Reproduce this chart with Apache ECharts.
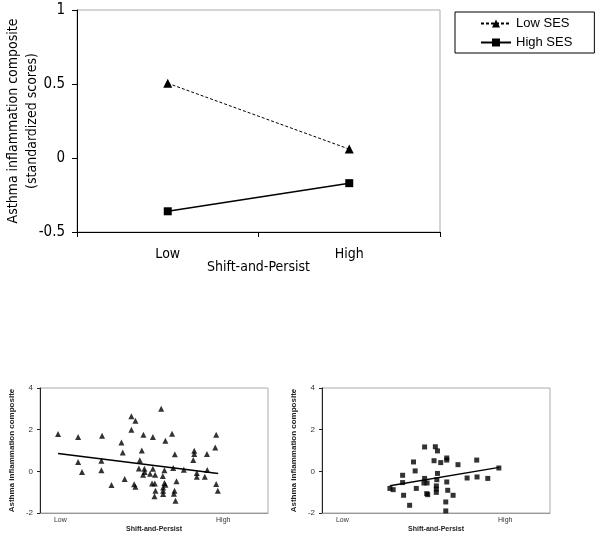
<!DOCTYPE html>
<html><head><meta charset="utf-8">
<script src="https://cdn.jsdelivr.net/npm/echarts@6/dist/echarts.min.js"></script>
<style>html,body{margin:0;padding:0;background:#fff}#c{width:600px;height:540px}</style>
</head><body><div id="c"></div>
<script>
// ---- Top chart: interaction plot ----
const categories = ['Low', 'High'];
const lowSES = [0.505, 0.06];
const highSES = [-0.36, -0.17];
const seriesNames = ['Low SES', 'High SES'];

// ---- Bottom charts: scatter (x: Shift-and-Persist, Low=0, High=10) ----
const xTickValues = [0, 10];
const xTickLabels = ['Low', 'High'];

const lowSESx = [-0.14,1.09,1.09,1.33,2.56,2.52,2.52,3.14,3.75,3.83,3.95,4.36,4.61,4.36,4.53,4.61,5.0,5.10,4.88,4.82,5.08,5.16,5.18,5.51,5.68,5.68,5.63,5.82,5.80,5.84,5.78,6.19,6.45,6.39,6.29,6.39,6.31,6.31,6.31,6.45,6.86,6.93,7.03,7.13,7.01,6.97,7.07,7.58,8.16,8.22,8.22,8.38,8.38,9.0,9.02,8.87,9.57,9.51,9.57,9.67];
const lowSESy = [1.79,1.65,0.45,-0.03,1.71,0.51,0.05,-0.66,1.38,0.91,-0.37,2.64,2.43,2.0,-0.62,-0.74,1.0,1.76,0.53,0.14,-0.16,0.13,-0.03,-0.11,1.65,0.13,-0.58,-0.16,-0.58,-0.93,-1.2,3.0,1.47,0.05,-0.22,-0.56,-0.77,-0.93,-1.09,-0.64,1.81,0.16,0.82,-0.48,-0.93,-1.07,-1.41,0.08,0.54,0.99,0.83,-0.08,-0.26,0.83,0.06,-0.26,1.76,1.15,-0.61,-0.93];
const lowTrendX = [-0.14, 9.69];
const lowTrendY = [0.86, -0.10];

const highSESx = [2.92,3.12,3.70,3.70,3.76,4.13,4.37,4.47,4.54,5.05,5.05,5.01,5.20,5.24,5.18,5.63,5.71,5.84,5.84,5.80,5.77,5.77,5.77,6.04,6.41,6.41,6.41,6.47,6.35,6.35,6.80,7.10,7.66,8.25,8.27,8.93,9.61];
const highSESy = [-0.82,-0.88,-0.19,-0.54,-1.15,-1.63,0.45,0.02,-0.82,1.17,-0.34,-0.56,-0.56,-1.12,-1.07,0.51,1.18,0.98,-0.1,-0.40,-0.70,-0.85,-1.01,0.42,0.64,0.54,-0.51,-0.91,-1.47,-1.90,-1.15,0.32,-0.32,0.54,-0.27,-0.34,0.16];
const highTrendX = [2.92, 9.63];
const highTrendY = [-0.69, 0.19];

const zip = (xs, ys) => xs.map((x, i) => [x, ys[i]]);
const FONT = '"DejaVu Sans Condensed", "Liberation Sans", sans-serif';
const SFONT = '"Liberation Sans", Arial, sans-serif';

function scatterX(gi) {
  return {
    type: 'value', gridIndex: gi, min: -1.25, max: 12.75,
    axisLine: { show: true, onZero: false, lineStyle: { color: '#999', width: 1 } },
    axisTick: { show: false }, splitLine: { show: false },
    axisLabel: {
      customValues: xTickValues,
      formatter: v => xTickLabels[xTickValues.indexOf(v)] ?? '',
      fontSize: 7, color: '#333', margin: 4, fontFamily: SFONT
    },
    name: 'Shift-and-Persist', nameLocation: 'middle', nameGap: 13, nameMoveOverlap: false,
    nameTextStyle: { fontSize: 7, fontWeight: 'bold', color: '#222', fontFamily: SFONT }
  };
}
function scatterY(gi) {
  return {
    type: 'value', gridIndex: gi, min: -2, max: 4, interval: 2,
    axisLine: { show: true, onZero: false, lineStyle: { color: '#222', width: 1 } },
    axisTick: { show: true, length: 3, lineStyle: { color: '#222' } },
    splitLine: { show: false },
    axisLabel: { fontSize: 8, color: '#333', margin: 7, fontFamily: SFONT },
    name: 'Asthma inflammation composite', nameLocation: 'middle', nameGap: 24, nameMoveOverlap: false,
    nameTextStyle: { fontSize: 8, fontWeight: 'bold', color: '#222', fontFamily: SFONT }
  };
}

const gridBase = { show: true, borderColor: '#aaa', borderWidth: 1, backgroundColor: 'transparent', containLabel: false, outerBoundsMode: 'none' };

const chart = echarts.init(document.getElementById('c'), null, { renderer: 'canvas' });
chart.setOption({
  animation: false,
  backgroundColor: '#fff',
  grid: [
    Object.assign({ left: 77, top: 10, width: 363, height: 222 }, gridBase),
    Object.assign({ left: 40, top: 388, width: 228, height: 125 }, gridBase),
    Object.assign({ left: 322, top: 388, width: 228, height: 125 }, gridBase)
  ],
  legend: {
    data: seriesNames, orient: 'vertical', left: 455, top: 12,
    padding: [5, 22, 4, 25], itemGap: 6, itemWidth: 30, itemHeight: 10,
    borderColor: '#000', borderWidth: 1,
    textStyle: { fontSize: 13, color: '#000', fontFamily: SFONT }
  },
  xAxis: [
    {
      type: 'category', gridIndex: 0, data: categories, boundaryGap: true,
      axisLine: { onZero: false, lineStyle: { color: '#000', width: 1 } },
      axisTick: { show: true, length: 5, lineStyle: { color: '#000' } },
      axisLabel: { fontSize: 14, color: '#000', margin: 15, fontFamily: FONT },
      name: 'Shift-and-Persist', nameLocation: 'middle', nameGap: 28, nameMoveOverlap: false,
      nameTextStyle: { fontSize: 14, color: '#000', fontFamily: FONT }
    },
    scatterX(1), scatterX(2)
  ],
  yAxis: [
    {
      type: 'value', gridIndex: 0, min: -0.5, max: 1, interval: 0.5,
      axisLine: { show: true, onZero: false, lineStyle: { color: '#000', width: 1 } },
      axisTick: { show: true, length: 5, lineStyle: { color: '#000' } },
      splitLine: { show: false },
      axisLabel: { fontSize: 15, color: '#000', margin: 12, fontFamily: FONT },
      name: 'Asthma inflammation composite\n(standardized scores)',
      nameLocation: 'middle', nameGap: 35, nameMoveOverlap: false,
      nameTextStyle: { fontSize: 14, color: '#000', lineHeight: 19, fontFamily: FONT }
    },
    scatterY(1), scatterY(2)
  ],
  series: [
    {
      type: 'line', name: seriesNames[0], xAxisIndex: 0, yAxisIndex: 0, data: lowSES,
      symbol: 'triangle', symbolSize: 9, itemStyle: { color: '#000' },
      lineStyle: { color: '#000', width: 1, type: [3, 2] }
    },
    {
      type: 'line', name: seriesNames[1], xAxisIndex: 0, yAxisIndex: 0, data: highSES,
      symbol: 'rect', symbolSize: 8, itemStyle: { color: '#000' },
      lineStyle: { color: '#000', width: 1.5 }
    },
    {
      type: 'scatter', name: 'lowScatter', xAxisIndex: 1, yAxisIndex: 1,
      data: zip(lowSESx, lowSESy), symbol: 'triangle', symbolSize: 6,
      itemStyle: { color: '#000' }
    },
    {
      type: 'line', name: 'lowTrend', xAxisIndex: 1, yAxisIndex: 1,
      data: zip(lowTrendX, lowTrendY), symbol: 'none',
      lineStyle: { color: '#000', width: 1.5 }
    },
    {
      type: 'scatter', name: 'highScatter', xAxisIndex: 2, yAxisIndex: 2,
      data: zip(highSESx, highSESy), symbol: 'rect', symbolSize: 5,
      itemStyle: { color: '#000' }
    },
    {
      type: 'line', name: 'highTrend', xAxisIndex: 2, yAxisIndex: 2,
      data: zip(highTrendX, highTrendY), symbol: 'none',
      lineStyle: { color: '#000', width: 1.5 }
    }
  ]
});
</script>
</body></html>
